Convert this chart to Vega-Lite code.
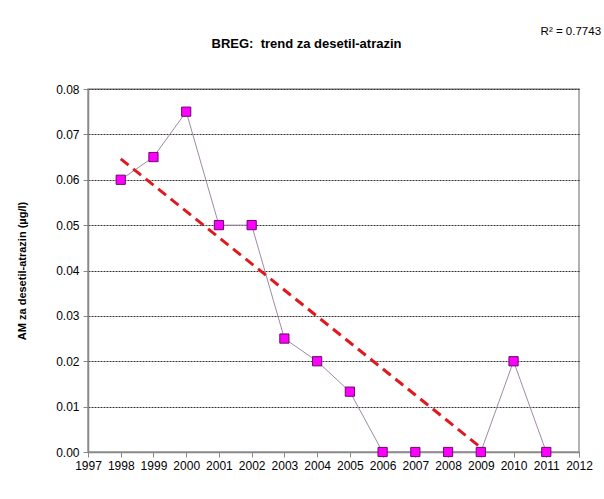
{
  "$schema": "https://vega.github.io/schema/vega-lite/v6.json",
  "width": 491,
  "height": 363,
  "autosize": {"type": "none"},
  "padding": {"left": 88, "top": 89, "right": 25, "bottom": 47},
  "background": "white",
  "title": {
    "text": "BREG:\u00a0 trend za desetil-atrazin",
    "font": "Liberation Sans",
    "fontSize": 13,
    "fontWeight": "bold",
    "color": "#000",
    "anchor": "middle",
    "frame": "group",
    "baseline": "alphabetic",
    "dx": -27,
    "offset": 0,
    "dy": 35
  },
  "config": {
    "font": "Liberation Sans",
    "view": {"stroke": "#999", "strokeWidth": 1.5},
    "axis": {
      "labelFont": "Liberation Sans",
      "labelFontSize": 12,
      "labelColor": "#000",
      "domainColor": "#888",
      "domainWidth": 1.5,
      "tickColor": "#888",
      "tickSize": 5
    },
    "axisX": {"labelOverlap": false}
  },
  "datasets": {
    "meas": [
      {"year": 1998, "value": 0.06},
      {"year": 1999, "value": 0.065},
      {"year": 2000, "value": 0.075},
      {"year": 2001, "value": 0.05},
      {"year": 2002, "value": 0.05},
      {"year": 2003, "value": 0.025},
      {"year": 2004, "value": 0.02},
      {"year": 2005, "value": 0.0133},
      {"year": 2006, "value": 0},
      {"year": 2007, "value": 0},
      {"year": 2008, "value": 0},
      {"year": 2009, "value": 0},
      {"year": 2010, "value": 0.02},
      {"year": 2011, "value": 0}
    ],
    "trend": [
      {"year": 1998, "value": 0.0646},
      {"year": 2009, "value": 0.001}
    ],
    "note": [
      {"year": 2011.75, "value": 0.0925, "label": "R² = 0.7743"}
    ]
  },
  "encoding": {
    "x": {
      "field": "year",
      "type": "quantitative",
      "scale": {"domain": [1997, 2012], "nice": false, "zero": false},
      "axis": {
        "title": null,
        "values": [1997,1998,1999,2000,2001,2002,2003,2004,2005,2006,2007,2008,2009,2010,2011,2012],
        "format": "d",
        "grid": false,
        "labelPadding": 3,
        "labelFlush": false,
        "labelOverlap": false,
        "labelSeparation": 0,
        "labelFontSize": 12
      }
    },
    "y": {
      "field": "value",
      "type": "quantitative",
      "scale": {"domain": [0, 0.08], "nice": false},
      "axis": {
        "title": "AM za desetil-atrazin (µg/l)",
        "titleFont": "Liberation Sans",
        "titleFontSize": 11,
        "titleFontWeight": "bold",
        "titleColor": "#000",
        "titlePadding": 28,
        "values": [0, 0.01, 0.02, 0.03, 0.04, 0.05, 0.06, 0.07, 0.08],
        "format": ".2f",
        "grid": true,
        "gridColor": "#333",
        "gridDash": [2, 1],
        "gridWidth": 1.2,
        "labelPadding": 4
      }
    }
  },
  "layer": [
    {
      "data": {"name": "meas"},
      "mark": {"type": "line", "color": "#a08aa6", "strokeWidth": 1}
    },
    {
      "data": {"name": "trend"},
      "mark": {"type": "line", "color": "#e0191e", "strokeWidth": 3, "strokeDash": [10, 6]}
    },
    {
      "data": {"name": "meas"},
      "mark": {"type": "square", "size": 85, "filled": true, "color": "#ff00ff", "stroke": "#6a0a6a", "strokeWidth": 1, "opacity": 1}
    },
    {
      "data": {"name": "note"},
      "mark": {"type": "text", "font": "Liberation Sans", "fontSize": 11.5, "color": "#000", "align": "center", "baseline": "middle"},
      "encoding": {
        "text": {"field": "label"}
      }
    }
  ]
}
